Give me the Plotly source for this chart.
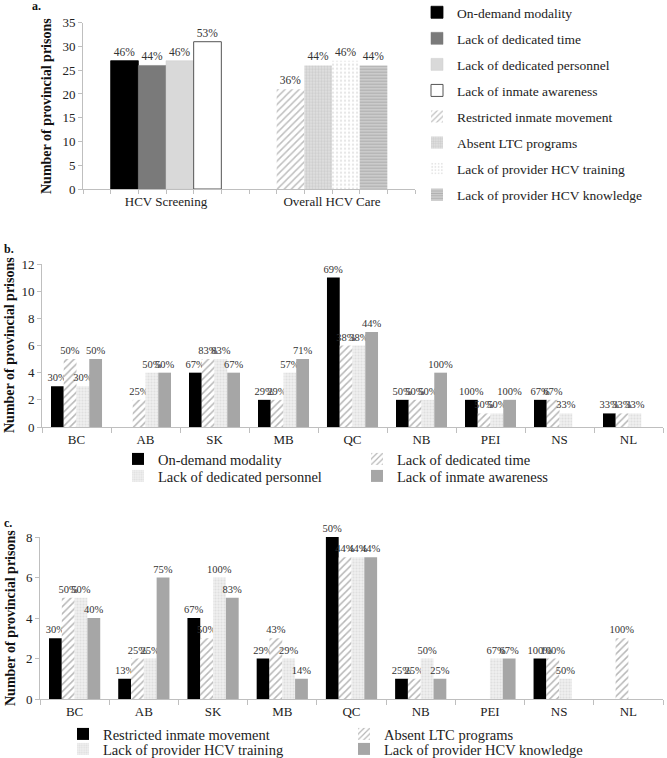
import plotly.graph_objects as go

FONT = "Liberation Serif, Times New Roman, DejaVu Serif, serif"
W, H = 667, 758

# ---------------- data ----------------
cats_a = ["HCV Screening", "Overall HCV Care"]
series_a = ["On-demand modality", "Lack of dedicated time", "Lack of dedicated personnel",
            "Lack of inmate awareness", "Restricted inmate movement", "Absent LTC programs",
            "Lack of provider HCV training", "Lack of provider HCV knowledge"]
values_a = [27, 26, 27, 31, 21, 26, 27, 26]
labels_a = ["46%", "44%", "46%", "53%", "36%", "44%", "46%", "44%"]
group_a = [0, 0, 0, 0, 1, 1, 1, 1]   # index into cats_a

provinces = ["BC", "AB", "SK", "MB", "QC", "NB", "PEI", "NS", "NL"]

series_b = ["On-demand modality", "Lack of dedicated time",
            "Lack of dedicated personnel", "Lack of inmate awareness"]
values_b = [
    [3, 0, 4, 2, 11, 2, 2, 2, 1],
    [5, 2, 5, 2, 6, 2, 1, 2, 1],
    [3, 4, 5, 4, 6, 2, 1, 1, 1],
    [5, 4, 4, 5, 7, 4, 2, 0, 0],
]
labels_b = [
    ["30%", "", "67%", "29%", "69%", "50%", "100%", "67%", "33%"],
    ["50%", "25%", "83%", "29%", "38%", "50%", "50%", "67%", "33%"],
    ["30%", "50%", "83%", "57%", "38%", "50%", "50%", "33%", "33%"],
    ["50%", "50%", "67%", "71%", "44%", "100%", "100%", "", ""],
]

series_c = ["Restricted inmate movement", "Absent LTC programs",
            "Lack of provider HCV training", "Lack of provider HCV knowledge"]
values_c = [
    [3, 1, 4, 2, 8, 1, 0, 2, 0],
    [5, 2, 3, 3, 7, 1, 0, 2, 3],
    [5, 2, 6, 2, 7, 2, 2, 1, 0],
    [4, 6, 5, 1, 7, 1, 2, 0, 0],
]
labels_c = [
    ["30%", "13%", "67%", "29%", "50%", "25%", "", "100%", ""],
    ["50%", "25%", "50%", "43%", "44%", "25%", "", "100%", "100%"],
    ["50%", "25%", "100%", "29%", "44%", "50%", "67%", "50%", ""],
    ["40%", "75%", "83%", "14%", "44%", "25%", "67%", "", ""],
]

# ---------------- styles ----------------
style_a = [
    dict(color="#000000", line=dict(color="#000000", width=0.8)),
    dict(color="#7a7a7a", line=dict(color="#7a7a7a", width=0.5)),
    dict(color="#d9d9d9", line=dict(color="#cfcfcf", width=0.5)),
    dict(color="#ffffff", line=dict(color="#555555", width=1)),
    dict(color="#ffffff", line=dict(width=0),
         pattern=dict(shape="/", fgcolor="#7f7f7f", bgcolor="#ffffff", size=5, solidity=0.3)),
    dict(color="#ffffff", line=dict(width=0),
         pattern=dict(shape=".", fgcolor="#b8b8b8", bgcolor="#e2e2e2", size=3, solidity=0.5)),
    dict(color="#ffffff", line=dict(width=0),
         pattern=dict(shape=".", fgcolor="#cccccc", bgcolor="#ffffff", size=4, solidity=0.25)),
    dict(color="#ffffff", line=dict(width=0),
         pattern=dict(shape="-", fgcolor="#8c8c8c", bgcolor="#d0d0d0", size=3, solidity=0.45)),
]
style_bc = [
    dict(color="#000000", line=dict(width=0)),
    dict(color="#ffffff", line=dict(width=0),
         pattern=dict(shape="/", fgcolor="#707070", bgcolor="#ffffff", size=5, solidity=0.3)),
    dict(color="#ffffff", line=dict(width=0),
         pattern=dict(shape=".", fgcolor="#cfcfcf", bgcolor="#efefef", size=3, solidity=0.4)),
    dict(color="#a6a6a6", line=dict(width=0)),
]

fig = go.Figure()

# ---------------- panel a ----------------
bw = 1 / 6
for i, name in enumerate(series_a):
    slot = i % 4
    fig.add_trace(go.Bar(
        x=[group_a[i]], y=[values_a[i]], name=name,
        width=bw, offset=-2 * bw + slot * bw,
        marker=style_a[i], text=[labels_a[i]], textposition="outside",
        textfont=dict(family=FONT, size=11.5, color="#333333"),
        cliponaxis=False, constraintext="none",
        xaxis="x", yaxis="y", legend="legend", legendgroup="a%d" % i,
    ))

# ---------------- panel b ----------------
for i, name in enumerate(series_b):
    fig.add_trace(go.Bar(
        x=provinces, y=values_b[i], name=name, marker=style_bc[i],
        text=labels_b[i], textposition="outside",
        textfont=dict(family=FONT, size=10.5, color="#333333"),
        cliponaxis=False, constraintext="none",
        xaxis="x2", yaxis="y2", legend="legend2" if i < 2 else "legend3",
    ))

# ---------------- panel c ----------------
for i, name in enumerate(series_c):
    fig.add_trace(go.Bar(
        x=provinces, y=values_c[i], name=name, marker=style_bc[i],
        text=labels_c[i], textposition="outside",
        textfont=dict(family=FONT, size=10.5, color="#333333"),
        cliponaxis=False, constraintext="none",
        xaxis="x3", yaxis="y3", legend="legend4" if i < 2 else "legend5",
    ))

axis_line = dict(showline=True, linecolor="#bfbfbf", linewidth=1, showgrid=False,
                 zeroline=False, tickfont=dict(family=FONT, size=13, color="#222222"))

def px_x(p):
    return p / W

def px_y(p):
    return 1 - p / H

def hleg(xp, yp, ew):
    return dict(x=px_x(xp), y=px_y(yp), xanchor="left", yanchor="top",
                orientation="h", entrywidth=ew, itemwidth=30,
                font=dict(family=FONT, size=14.5, color="#222222"),
                bgcolor="rgba(0,0,0,0)", tracegroupgap=0)

fig.update_layout(
    width=W, height=H, margin=dict(l=0, r=0, t=0, b=0, autoexpand=False),
    paper_bgcolor="white", plot_bgcolor="white",
    barmode="group", bargap=0.26, bargroupgap=0,
    font=dict(family=FONT, color="#222222"),
    xaxis=dict(domain=[px_x(83), px_x(415)], anchor="y", range=[-0.5, 1.5],
               tickvals=[0, 1], ticktext=cats_a, ticks="",
               minor=dict(ticks="outside", tick0=-0.5, dtick=1 / 6, ticklen=4,
                          tickcolor="#bfbfbf"),
               **axis_line),
    yaxis=dict(domain=[px_y(189), px_y(22.7)], anchor="x", range=[0, 35], dtick=5,
               ticks="outside", ticklen=4, tickcolor="#bfbfbf", **axis_line),
    xaxis2=dict(domain=[px_x(42), px_x(663)], anchor="y2", ticks="outside",
                tickson="boundaries", ticklen=5, tickcolor="#bfbfbf", **axis_line),
    yaxis2=dict(domain=[px_y(427), px_y(264)], anchor="x2", range=[0, 12], dtick=2,
                ticks="outside", ticklen=4, tickcolor="#bfbfbf", **axis_line),
    xaxis3=dict(domain=[px_x(40), px_x(663)], anchor="y3", ticks="outside",
                tickson="boundaries", ticklen=5, tickcolor="#bfbfbf", **axis_line),
    yaxis3=dict(domain=[px_y(699), px_y(537)], anchor="x3", range=[0, 8], dtick=2,
                ticks="outside", ticklen=4, tickcolor="#bfbfbf", **axis_line),
    legend=dict(x=px_x(417), y=px_y(-3), xanchor="left", yanchor="top",
                orientation="v", tracegroupgap=5.5, itemwidth=30,
                font=dict(family=FONT, size=13.5, color="#222222"),
                bgcolor="rgba(0,0,0,0)"),
    legend2=hleg(118, 443, 194),
    legend3=hleg(118, 460, 194),
    legend4=hleg(63, 718, 236),
    legend5=hleg(63, 733, 236),
    showlegend=True,
)

ytitle_font = dict(family=FONT, size=14, color="#111111")
annotations = [
    dict(text="<b>a.</b>", x=px_x(30), y=px_y(6), xanchor="left", yanchor="middle",
         font=dict(family=FONT, size=12, color="#111111")),
    dict(text="<b>b.</b>", x=px_x(2), y=px_y(249), xanchor="left", yanchor="middle",
         font=dict(family=FONT, size=12, color="#111111")),
    dict(text="<b>c.</b>", x=px_x(2), y=px_y(523), xanchor="left", yanchor="middle",
         font=dict(family=FONT, size=12, color="#111111")),
    dict(text="<b>Number of provincial prisons</b>", x=px_x(47), y=px_y(106),
         textangle=-90, xanchor="center", yanchor="middle", font=ytitle_font),
    dict(text="<b>Number of provincial prisons</b>", x=px_x(10), y=px_y(345),
         textangle=-90, xanchor="center", yanchor="middle", font=ytitle_font),
    dict(text="<b>Number of provincial prisons</b>", x=px_x(10), y=px_y(618),
         textangle=-90, xanchor="center", yanchor="middle", font=ytitle_font),
]
for a in annotations:
    a.update(xref="paper", yref="paper", showarrow=False)
fig.update_layout(annotations=annotations)

fig.write_html("out.html",
               config={"displayModeBar": False},
               post_script="document.body.style.margin='0';"
                           "document.body.style.overflow='hidden';")
